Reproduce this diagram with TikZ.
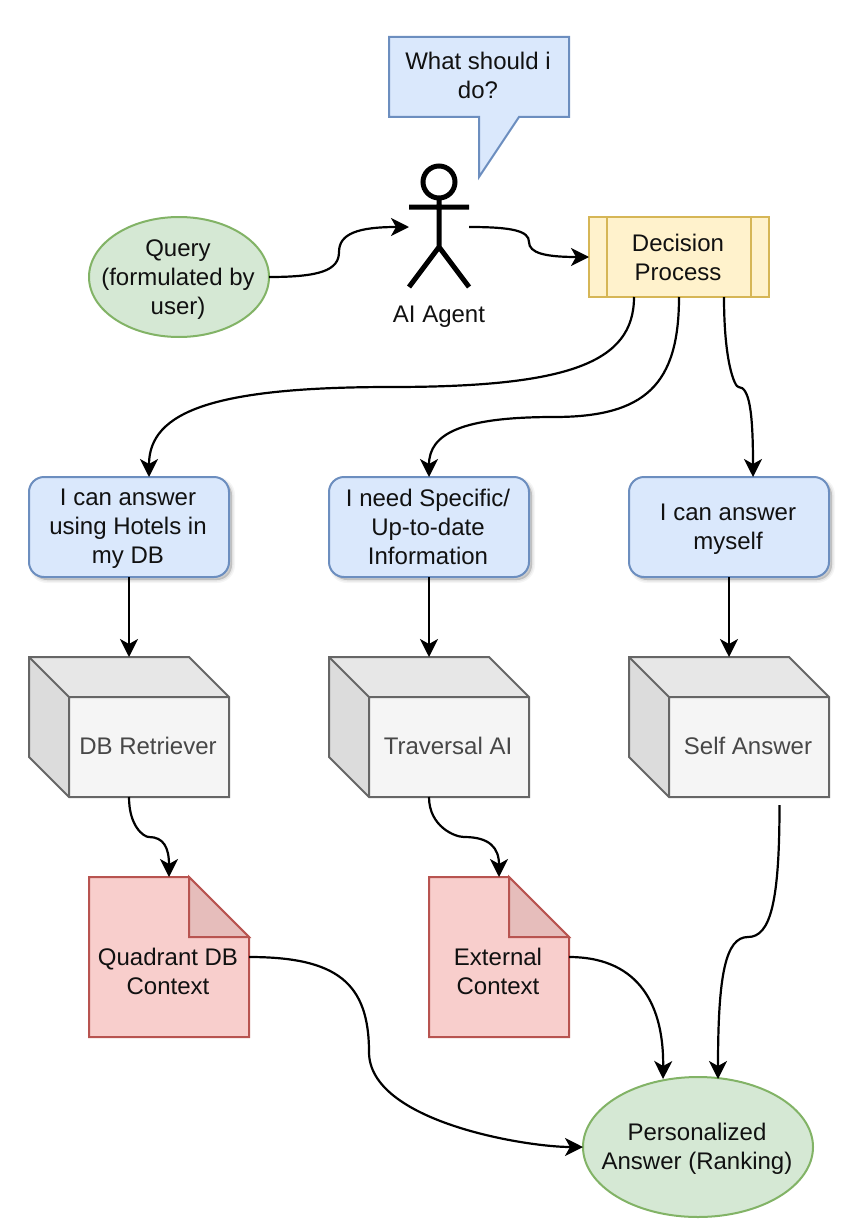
\documentclass[tikz,border=0pt]{standalone}
\usepackage{fontspec}
\setmainfont{Liberation Sans}
\usetikzlibrary{arrows.meta,shapes.geometric,shadows}
\definecolor{bluefill}{HTML}{DAE8FC}
\definecolor{bluedraw}{HTML}{6C8EBF}
\definecolor{greenfill}{HTML}{D5E8D4}
\definecolor{greendraw}{HTML}{82B366}
\definecolor{yellowfill}{HTML}{FFF2CC}
\definecolor{yellowdraw}{HTML}{D6B656}
\definecolor{redfill}{HTML}{F8CECC}
\definecolor{reddraw}{HTML}{B85450}
\definecolor{redfold}{HTML}{E6BDBB}
\definecolor{cubefill}{HTML}{F5F5F5}
\definecolor{cubedraw}{HTML}{666666}
\definecolor{cubetop}{HTML}{E7E7E7}
\definecolor{cubeside}{HTML}{DCDCDC}
\definecolor{inktext}{HTML}{111111}
\tikzset{
  every node/.style={font=\fontsize{24}{29}\selectfont,text=inktext,align=center,inner sep=0pt,outer sep=0pt},
  shape line/.style={line width=2pt,line join=miter},
  link/.style={draw=black,line width=2.2pt,-{Stealth[length=18pt,width=18pt,inset=5pt]}},
  ellipsebox/.style={ellipse,shape line,draw=greendraw,fill=greenfill},
  softshadow/.style={
    general shadow={draw=black,fill=black,line width=6pt,opacity=.04,shadow xshift=3pt,shadow yshift=-3pt},
    general shadow={draw=black,fill=black,line width=3pt,opacity=.06,shadow xshift=3pt,shadow yshift=-3pt},
    general shadow={fill=black,opacity=.08,shadow xshift=3pt,shadow yshift=-3pt}},
  thought/.style={rectangle,rounded corners=15pt,shape line,draw=bluedraw,fill=bluefill,minimum width=200pt,minimum height=100pt,softshadow},
  cubelabel/.style={text=cubedraw!70!black},
  cubeface/.style={shape line,draw=cubedraw},
  docface/.style={shape line,draw=reddraw},
}
\begin{document}
\begin{tikzpicture}[x=1pt,y=-1pt]
\useasboundingbox (0,0) rectangle (867,1220);

% speech bubble
\draw[shape line,draw=bluedraw,fill=bluefill] (389,37) -- (569,37) -- (569,117) -- (519,117) -- (479,177) -- (479,117) -- (389,117) -- cycle;
\node (bubble) at (478,75) {What should i\\do?};

% actor
\node[minimum width=60pt,minimum height=120pt] (agent) at (439,227) {};
\draw[line width=5pt] (439,182) circle[radius=16];
\draw[line width=5pt] (439,198) -- (439,247) (409,207) -- (469,207) (409,287) -- (439,247) -- (469,287);
\node (agentlabel) at (439,317) {AI Agent};

% query
\node[ellipsebox,minimum width=180pt,minimum height=120pt] (query) at (179,277) {};
\node (querytext) at (178,280) {Query\\(formulated by\\user)};

% decision process
\node[rectangle,shape line,draw=yellowdraw,fill=yellowfill,minimum width=180pt,minimum height=80pt] (decision) at (679,257) {};
\node (decisiontext) at (678,257.5) {Decision\\Process};
\draw[shape line,draw=yellowdraw] (607,217) -- (607,297) (751,217) -- (751,297);

% choice boxes
\node[thought] (hotels) at (129,527) {};
\node[thought] (specific) at (429,527) {};
\node[thought] (myself) at (729,527) {};
\node (hotelstext) at (128,529) {I can answer\\using Hotels in\\my DB};
\node (specifictext) at (428,527) {I need Specific/\\Up-to-date\\Information};
\node (myselftext) at (728,529) {I can answer\\myself};

% cubes
\node[minimum width=200pt,minimum height=140pt] (dbr) at (129,727) {};
\node[minimum width=200pt,minimum height=140pt] (trav) at (429,727) {};
\node[minimum width=200pt,minimum height=140pt] (selfa) at (729,727) {};
\foreach \cx in {29,329,629}{
  \fill[cubetop] (\cx,657) -- (\cx+160,657) -- (\cx+200,697) -- (\cx+40,697) -- cycle;
  \fill[cubeside] (\cx,657) -- (\cx+40,697) -- (\cx+40,797) -- (\cx,757) -- cycle;
  \fill[cubefill] (\cx+40,697) rectangle (\cx+200,797);
  \draw[cubeface] (\cx,657) -- (\cx+160,657) -- (\cx+200,697) -- (\cx+200,797) -- (\cx+40,797) -- (\cx,757) -- cycle;
  \draw[cubeface] (\cx,657) -- (\cx+40,697) -- (\cx+200,697) (\cx+40,697) -- (\cx+40,797);
}
\node[cubelabel] (dbrtext) at (148,746) {DB Retriever};
\node[cubelabel] (travtext) at (448,746) {Traversal AI};
\node[cubelabel] (selfatext) at (748,746) {Self Answer};

% documents
\node[minimum width=160pt,minimum height=160pt] (qctx) at (169,957) {};
\node[minimum width=140pt,minimum height=160pt] (ectx) at (499,957) {};
\draw[docface,fill=redfill] (89,877) -- (189,877) -- (249,937) -- (249,1037) -- (89,1037) -- cycle;
\draw[docface,fill=redfold] (189,877) -- (189,937) -- (249,937) -- cycle;
\draw[docface,fill=redfill] (429,877) -- (509,877) -- (569,937) -- (569,1037) -- (429,1037) -- cycle;
\draw[docface,fill=redfold] (509,877) -- (509,937) -- (569,937) -- cycle;
\node (qctxtext) at (168,971.5) {Quadrant DB\\Context};
\node (ectxtext) at (498,971) {External\\Context};

% answer
\node[ellipsebox,minimum width=230pt,minimum height=140pt] (answer) at (698,1147) {};
\node (answertext) at (697,1149) {Personalized\\Answer (Ranking)};

% connectors
\draw[link] (query.east) .. controls (320.1,277) and (339,270.25) .. (339,252) .. controls (339,233.75) and (357.9,227) .. (agent.west);
\draw[link] (agent.east) .. controls (512.8,227) and (529,231) .. (529,242) .. controls (529,253) and (545.2,257) .. (decision.west);
\draw[link] ([xshift=-45]decision.south) .. controls (634,362.7) and (568.5,387) .. (391.5,387) .. controls (214.5,387) and (149,411.3) .. ([xshift=20]hotels.north);
\draw[link] (decision.south) .. controls (679,384.6) and (645.25,417) .. (554,417) .. controls (462.75,417) and (429,433.2) .. (specific.north);
\draw[link] ([xshift=45]decision.south) .. controls (724,362.7) and (734.8,387) .. (738.5,387) .. controls (749.2,387) and (753,411.3) .. ([xshift=24]myself.north);
\draw[link] (hotels.south) -- (dbr.north);
\draw[link] (specific.south) -- (trav.north);
\draw[link] (myself.south) -- (selfa.north);
\draw[link] (dbr.south) .. controls (129,826.2) and (143.6,837) .. (149,837) .. controls (163.6,837) and (169,847.8) .. (qctx.north);
\draw[link] (trav.south) .. controls (429,826.2) and (454.55,837) .. (464,837) .. controls (489.55,837) and (499,847.8) .. (ectx.north);
\draw[link] (qctx.east) .. controls (336.6,957) and (369,982.65) .. (369,1052) .. controls (369,1121.35) and (525.2,1147) .. (answer.west);
\draw[link] (ectx.east) .. controls (632.3,957) and (664,997) .. ([xshift=-35,yshift=-2]answer.north);
\draw[link] ([xshift=50.5,yshift=-8]selfa.south) .. controls (779.5,901.4) and (770.6,937) .. (748,937) .. controls (725.4,937) and (718,975.2) .. ([xshift=20,yshift=-2]answer.north);
\end{tikzpicture}
\end{document}
